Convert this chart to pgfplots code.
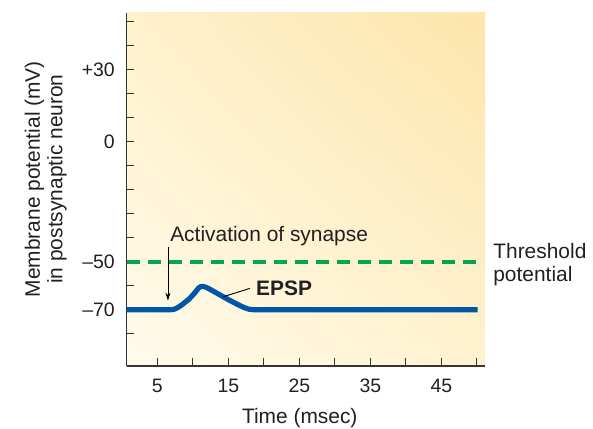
\documentclass[border=0pt]{standalone}
\usepackage{fontspec}
\setmainfont{Liberation Sans}
\usepackage{pgfplots}
\pgfplotsset{compat=1.18}
\usetikzlibrary{arrows.meta,shadings}
\definecolor{txt}{RGB}{35,31,32}
\definecolor{spine}{RGB}{55,52,50}
\definecolor{epsp}{RGB}{0,87,168}
\definecolor{thr}{RGB}{0,166,81}
\definecolor{bgll}{RGB}{255,251,235}
\definecolor{bgul}{RGB}{255,241,205}
\definecolor{bglr}{RGB}{255,242,208}
\definecolor{bgur}{RGB}{253,229,171}
\begin{document}
\begin{tikzpicture}[x=1bp,y=1bp]
\begin{axis}[
  at={(126.7bp,63bp)}, anchor=south west,
  scale only axis, width=358.3bp, height=353.3bp,
  xmin=0.69, xmax=51.15, ymin=-93.46, ymax=53.75,
  axis x line=bottom, axis y line=left,
  axis line style={-, spine, line width=1.3bp},
  axis background/.style={shade, lower left=bgll, upper left=bgul, lower right=bglr, upper right=bgur},
  tick align=inside, major tick length=7.5bp,
  tick style={spine, line width=1.2bp},
  xtick={5,10,...,50},
  xticklabels={5,,15,,25,,35,,45,},
  ytick={-80,-70,...,50},
  yticklabels={,{\textendash 70},,{\textendash 50},,,,,0,,,+30,,},
  xticklabel style={font=\fontsize{19.5}{22}\selectfont, text=txt, anchor=base, inner sep=0pt, yshift=-26.7bp},
  yticklabel style={font=\fontsize{19.5}{22}\selectfont, text=txt, anchor=east, inner sep=0pt, xshift=-11.7bp},
  xlabel={Time (msec)},
  xlabel style={font=\fontsize{21}{23}\selectfont, text=txt, at={(axis description cs:0.483,-0.164)}, anchor=base, inner sep=0pt},
  ylabel={Membrane potential (mV)\\in postsynaptic neuron},
  ylabel style={font=\fontsize{21}{22.8}\selectfont, text=txt, align=center, at={(axis description cs:-0.226,0.529)}, anchor=center, inner sep=0pt},
  clip=false,
]
\addplot[thr, line width=4bp, dash pattern=on 13bp off 8bp] coordinates {(0.69,-50) (50.0,-50)};
\addplot[epsp, line width=5.2bp, line join=round, line cap=butt] coordinates {
(0.69,-70) (6.9,-70) (7.4,-69.8) (7.9,-69.1) (8.5,-67.9) (9.5,-65.5) (10.3,-62.9) (10.8,-61.0) (11.1,-60.4) (11.4,-60.3) (11.8,-60.6) (12.3,-61.3) (13.5,-63.3) (15.0,-65.8) (16.5,-68.1) (17.3,-69.2) (17.9,-69.8) (18.5,-70) (50.1,-70)};
\addplot[black, line width=0.9bp, -{Stealth[length=8bp,width=5bp]}] coordinates {(6.5,-43.8) (6.5,-66.2)};
\addplot[black, line width=0.9bp] coordinates {(14.3,-64.6) (18.05,-61.1)};
\node[anchor=base west, inner sep=0pt, text=txt, font=\fontsize{21}{23}\selectfont] at (axis cs:6.8,-41.7) {Activation of synapse};
\node[anchor=base west, inner sep=0pt, text=txt, font=\fontsize{21}{23}\selectfont\bfseries] at (axis cs:18.9,-63.9) {EPSP};
\node[anchor=base west, inner sep=0pt, text=txt, font=\fontsize{21}{23}\selectfont] at (axis cs:52.3,-48.6) {Threshold};
\node[anchor=base west, inner sep=0pt, text=txt, font=\fontsize{21}{23}\selectfont] at (axis cs:52.3,-58.3) {potential};
\end{axis}
\pgfresetboundingbox
\path[use as bounding box] (0,0) rectangle (593bp,429bp);
\end{tikzpicture}
\end{document}
